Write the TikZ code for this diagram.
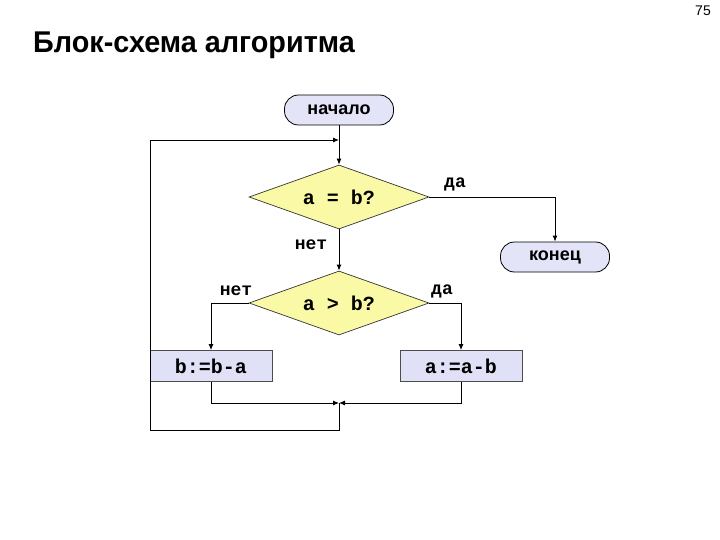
\documentclass[tikz,border=0pt]{standalone}
\usepackage{fontspec}
\setmainfont{Liberation Sans}
\newfontfamily\monob{Liberation Mono}
\usetikzlibrary{shapes.geometric,arrows.meta}
\definecolor{termfill}{HTML}{E4E4F8}
\definecolor{procfill}{HTML}{E0E0F6}
\definecolor{decfill}{HTML}{FAFAA6}
\begin{document}
\begin{tikzpicture}[x=1pt,y=-1pt,
  conn/.style={line width=0.9pt,draw=black},
  arr/.style={conn,-{Latex[length=6pt,width=5pt]}},
  term/.style={draw=black,line width=0.8pt,fill=termfill,rounded corners=14pt,
    minimum width=109pt,minimum height=30pt,inner sep=0pt,
    font=\fontsize{18}{20}\selectfont\bfseries},
  proc/.style={draw=black!70,line width=0.8pt,fill=procfill,
    minimum width=122pt,minimum height=31pt,inner sep=0pt,
    font=\monob\fontsize{20}{22}\selectfont\bfseries},
  dec/.style={diamond,draw=black!80,line width=0.7pt,fill=decfill,aspect=2.8,
    minimum width=180pt,minimum height=64pt,inner sep=0pt,
    font=\monob\fontsize{20}{22}\selectfont\bfseries},
  lbl/.style={font=\monob\fontsize{18}{20}\selectfont\bfseries,inner sep=0pt}]
\useasboundingbox (0,0) rectangle (720,540);
\node[font=\fontsize{14}{16}\selectfont,anchor=north east,inner sep=0pt] (pg) at (711,6) {75};
\node[font=\fontsize{30}{34}\selectfont\bfseries,anchor=west,inner sep=0pt,xscale=0.96] (title) at (33,45) {Блок-схема алгоритма};

\node[term] (start) at (339,110) {начало};
\node[dec] (d1) at (339,197) {a = b?};
\node[term] (end) at (555,257) {конец};
\node[dec] (d2) at (339,303) {a > b?};
\node[proc] (b1) at (211,366) {b:=b-a};
\node[proc] (a1) at (461,366) {a:=a-b};

\coordinate (m) at (339,403);
\coordinate (j) at (339,140);
\coordinate (bl) at (150,430);

\draw[arr] (start.south) -- (d1.north);
\draw[arr] (d1.east) -| (end.north);
\draw[arr] (d1.south) -- (d2.north);
\draw[arr] (d2.west) -| (b1.north);
\draw[arr] (d2.east) -| (a1.north);
\draw[arr] (b1.south) |- (m);
\draw[arr] (a1.south) |- (m);
\draw[arr] (m) |- (bl) |- (j);

\node[lbl] (l1) at (455,184) {да};
\node[lbl] (l2) at (311,245) {нет};
\node[lbl] (l3) at (236,291) {нет};
\node[lbl] (l4) at (442,291) {да};
\end{tikzpicture}
\end{document}
